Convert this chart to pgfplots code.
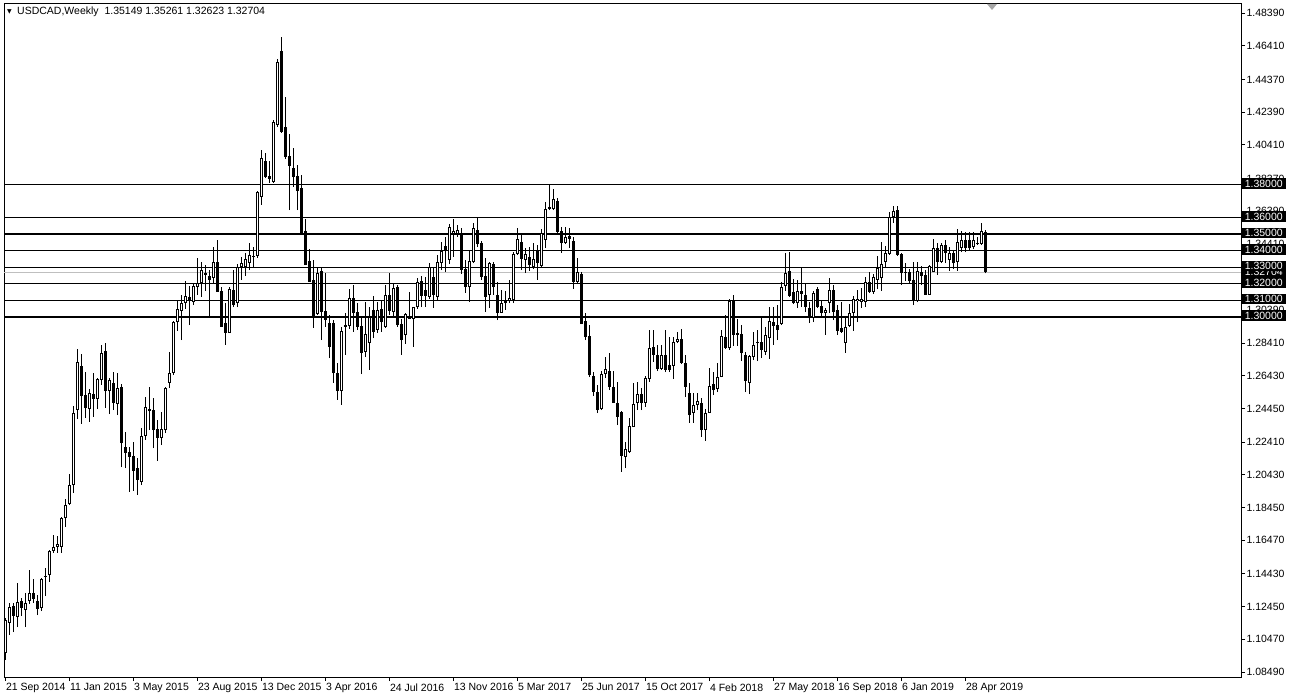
\documentclass[border=0pt]{standalone}
\usepackage{pgfplots}
\pgfplotsset{compat=1.18}
\usepackage{pgfplotstable}
\usepackage{fontspec}
\setmainfont{Liberation Sans}
\newfontfamily\dejavu{DejaVu Sans}

\pgfplotstableread{
k o h l c
0 1.0964 1.1176 1.0922 1.1164
1 1.1146 1.1267 1.1073 1.1243
2 1.1249 1.1267 1.1091 1.1188
3 1.1182 1.1388 1.1121 1.1273
4 1.1279 1.1297 1.1188 1.1237
5 1.1224 1.1327 1.1121 1.1267
6 1.1279 1.1467 1.1261 1.1327
7 1.1327 1.1412 1.1267 1.1291
8 1.1279 1.1315 1.1194 1.1231
9 1.1237 1.1418 1.1218 1.1412
10 1.1424 1.1479 1.1309 1.1430
11 1.1436 1.1588 1.1394 1.1582
12 1.1582 1.1679 1.1570 1.1606
13 1.1606 1.1672 1.1570 1.1624
14 1.1606 1.1788 1.1570 1.1781
15 1.1781 1.1896 1.1727 1.1860
16 1.1866 1.2048 1.1860 1.1981
17 1.1981 1.2460 1.1933 1.2417
18 1.2435 1.2805 1.2381 1.2726
19 1.2702 1.2774 1.2351 1.2520
20 1.2526 1.2665 1.2387 1.2448
21 1.2441 1.2563 1.2363 1.2538
22 1.2532 1.2659 1.2393 1.2502
23 1.2502 1.2629 1.2441 1.2623
24 1.2617 1.2829 1.2587 1.2781
25 1.2793 1.2841 1.2448 1.2550
26 1.2550 1.2629 1.2411 1.2617
27 1.2599 1.2665 1.2435 1.2478
28 1.2472 1.2659 1.2405 1.2569
29 1.2575 1.2593 1.2090 1.2235
30 1.2211 1.2302 1.2084 1.2175
31 1.2181 1.2211 1.1939 1.2151
32 1.2157 1.2242 1.1945 1.2066
33 1.2084 1.2145 1.1921 1.2012
34 1.1999 1.2326 1.1981 1.2278
35 1.2278 1.2514 1.2254 1.2454
36 1.2441 1.2575 1.2314 1.2429
37 1.2435 1.2508 1.2205 1.2314
38 1.2320 1.2375 1.2127 1.2266
39 1.2266 1.2423 1.2223 1.2320
40 1.2314 1.2575 1.2296 1.2569
41 1.2599 1.2787 1.2569 1.2659
42 1.2659 1.2974 1.2647 1.2968
43 1.2968 1.3101 1.2914 1.3047
44 1.3035 1.3132 1.2859 1.3083
45 1.3083 1.3216 1.3047 1.3126
46 1.3120 1.3186 1.2950 1.3095
47 1.3089 1.3204 1.3071 1.3186
48 1.3180 1.3356 1.3132 1.3204
49 1.3204 1.3331 1.3120 1.3283
50 1.3265 1.3313 1.3156 1.3253
51 1.3247 1.3283 1.3005 1.3223
52 1.3235 1.3422 1.3204 1.3331
53 1.3331 1.3465 1.3150 1.3150
54 1.3156 1.3180 1.2938 1.2938
55 1.2962 1.3083 1.2829 1.2902
56 1.2902 1.3180 1.2902 1.3168
57 1.3162 1.3283 1.3059 1.3071
58 1.3083 1.3319 1.3059 1.3301
59 1.3301 1.3362 1.3223 1.3325
60 1.3301 1.3386 1.3247 1.3350
61 1.3325 1.3446 1.3283 1.3374
62 1.3362 1.3422 1.3295 1.3368
63 1.3368 1.3761 1.3356 1.3755
64 1.3725 1.4010 1.3677 1.3961
65 1.3943 1.3991 1.3840 1.3846
66 1.3852 1.3943 1.3810 1.3834
67 1.3816 1.4191 1.3810 1.4179
68 1.4161 1.4561 1.4149 1.4542
69 1.4609 1.4694 1.4113 1.4119
70 1.4149 1.4331 1.3955 1.3967
71 1.3973 1.4107 1.3646 1.3913
72 1.3901 1.4022 1.3786 1.3846
73 1.3852 1.3919 1.3646 1.3761
74 1.3780 1.3858 1.3507 1.3507
75 1.3519 1.3592 1.3313 1.3313
76 1.3337 1.3410 1.3210 1.3210
77 1.3223 1.3344 1.2932 1.3005
78 1.3017 1.3295 1.3011 1.3265
79 1.3277 1.3301 1.2859 1.3029
80 1.3035 1.3265 1.2938 1.2980
81 1.2962 1.3011 1.2750 1.2817
82 1.2962 1.2980 1.2599 1.2659
83 1.2659 1.2720 1.2496 1.2550
84 1.2550 1.2938 1.2466 1.2914
85 1.2950 1.3023 1.2769 1.2938
86 1.2944 1.3168 1.2926 1.3114
87 1.3114 1.3192 1.2908 1.3023
88 1.3029 1.3083 1.2920 1.2938
89 1.2944 1.2999 1.2653 1.2781
90 1.2787 1.3089 1.2756 1.2896
91 1.2841 1.3059 1.2678 1.2999
92 1.3041 1.3126 1.2871 1.2908
93 1.2920 1.3089 1.2902 1.3041
94 1.3047 1.3101 1.2908 1.2968
95 1.2938 1.3192 1.2932 1.3132
96 1.3132 1.3265 1.3011 1.3035
97 1.3029 1.3204 1.2999 1.3174
98 1.3180 1.3192 1.2938 1.2950
99 1.2956 1.2986 1.2769 1.2859
100 1.2890 1.3023 1.2835 1.3017
101 1.2992 1.3150 1.2986 1.2986
102 1.2986 1.3059 1.2817 1.3059
103 1.3059 1.3235 1.3047 1.3210
104 1.3216 1.3247 1.3059 1.3126
105 1.3162 1.3241 1.3059 1.3126
106 1.3120 1.3325 1.3108 1.3301
107 1.3241 1.3295 1.3053 1.3132
108 1.3120 1.3374 1.3101 1.3331
109 1.3325 1.3453 1.3283 1.3398
110 1.3428 1.3483 1.3271 1.3398
111 1.3344 1.3562 1.3319 1.3543
112 1.3501 1.3592 1.3362 1.3519
113 1.3501 1.3555 1.3483 1.3525
114 1.3501 1.3537 1.3259 1.3283
115 1.3289 1.3344 1.3144 1.3180
116 1.3180 1.3404 1.3089 1.3337
117 1.3331 1.3568 1.3325 1.3537
118 1.3525 1.3604 1.3422 1.3440
119 1.3446 1.3459 1.3223 1.3241
120 1.3247 1.3356 1.3029 1.3120
121 1.3132 1.3331 1.3053 1.3325
122 1.3319 1.3331 1.3132 1.3180
123 1.3132 1.3210 1.2980 1.3023
124 1.3023 1.3162 1.3023 1.3083
125 1.3083 1.3156 1.3041 1.3095
126 1.3095 1.3223 1.3083 1.3114
127 1.3101 1.3392 1.3083 1.3380
128 1.3380 1.3537 1.3374 1.3471
129 1.3453 1.3495 1.3283 1.3350
130 1.3344 1.3416 1.3265 1.3380
131 1.3362 1.3422 1.3277 1.3313
132 1.3301 1.3446 1.3289 1.3350
133 1.3404 1.3434 1.3223 1.3325
134 1.3307 1.3531 1.3301 1.3507
135 1.3465 1.3695 1.3416 1.3652
136 1.3665 1.3798 1.3646 1.3652
137 1.3652 1.3774 1.3646 1.3713
138 1.3701 1.3719 1.3507 1.3513
139 1.3519 1.3543 1.3386 1.3446
140 1.3446 1.3543 1.3440 1.3483
141 1.3489 1.3537 1.3416 1.3471
142 1.3459 1.3483 1.3168 1.3210
143 1.3210 1.3356 1.3198 1.3271
144 1.3259 1.3271 1.2956 1.2956
145 1.2974 1.3023 1.2859 1.2877
146 1.2883 1.2950 1.2635 1.2647
147 1.2641 1.2665 1.2520 1.2544
148 1.2544 1.2587 1.2417 1.2435
149 1.2441 1.2671 1.2435 1.2653
150 1.2653 1.2756 1.2629 1.2684
151 1.2671 1.2781 1.2556 1.2575
152 1.2575 1.2671 1.2478 1.2478
153 1.2478 1.2605 1.2344 1.2393
154 1.2423 1.2429 1.2060 1.2157
155 1.2151 1.2242 1.2084 1.2199
156 1.2181 1.2387 1.2175 1.2338
157 1.2332 1.2599 1.2332 1.2472
158 1.2478 1.2605 1.2435 1.2532
159 1.2532 1.2569 1.2435 1.2478
160 1.2478 1.2641 1.2454 1.2629
161 1.2623 1.2920 1.2605 1.2811
162 1.2817 1.2920 1.2726 1.2769
163 1.2769 1.2829 1.2671 1.2684
164 1.2684 1.2829 1.2678 1.2769
165 1.2769 1.2920 1.2665 1.2678
166 1.2708 1.2877 1.2665 1.2678
167 1.2702 1.2877 1.2623 1.2847
168 1.2847 1.2908 1.2841 1.2865
169 1.2865 1.2926 1.2714 1.2720
170 1.2720 1.2769 1.2514 1.2575
171 1.2538 1.2599 1.2357 1.2405
172 1.2417 1.2538 1.2357 1.2466
173 1.2466 1.2538 1.2435 1.2490
174 1.2478 1.2508 1.2272 1.2314
175 1.2314 1.2441 1.2248 1.2417
176 1.2417 1.2690 1.2417 1.2581
177 1.2593 1.2665 1.2526 1.2556
178 1.2563 1.2720 1.2544 1.2635
179 1.2635 1.2920 1.2635 1.2883
180 1.2877 1.3011 1.2805 1.2811
181 1.2811 1.3108 1.2799 1.3095
182 1.3095 1.3132 1.2823 1.2890
183 1.2902 1.2986 1.2823 1.2890
184 1.2896 1.2950 1.2732 1.2781
185 1.2769 1.2787 1.2544 1.2611
186 1.2599 1.2769 1.2532 1.2762
187 1.2756 1.2908 1.2738 1.2829
188 1.2841 1.2920 1.2732 1.2847
189 1.2847 1.3005 1.2750 1.2799
190 1.2787 1.2938 1.2769 1.2890
191 1.2871 1.3059 1.2744 1.2974
192 1.2968 1.3059 1.2829 1.2944
193 1.2950 1.3071 1.2859 1.2920
194 1.2956 1.3210 1.2950 1.3180
195 1.3186 1.3386 1.3156 1.3265
196 1.3277 1.3392 1.3120 1.3126
197 1.3150 1.3229 1.3077 1.3083
198 1.3083 1.3223 1.3053 1.3156
199 1.3156 1.3295 1.3059 1.3138
200 1.3132 1.3204 1.3029 1.3059
201 1.3053 1.3089 1.2962 1.2992
202 1.2992 1.3156 1.2968 1.3144
203 1.3168 1.3180 1.3053 1.3059
204 1.3065 1.3101 1.2999 1.3023
205 1.3023 1.3053 1.2890 1.3041
206 1.3083 1.3235 1.3023 1.3162
207 1.3162 1.3192 1.2980 1.3029
208 1.3041 1.3071 1.2890 1.2914
209 1.2932 1.3089 1.2902 1.2908
210 1.2841 1.2992 1.2781 1.2938
211 1.2944 1.3077 1.2938 1.3023
212 1.3023 1.3126 1.2914 1.3108
213 1.3095 1.3162 1.2968 1.3108
214 1.3089 1.3174 1.3053 1.3108
215 1.3089 1.3241 1.3059 1.3210
216 1.3210 1.3271 1.3144 1.3150
217 1.3150 1.3259 1.3138 1.3241
218 1.3223 1.3368 1.3168 1.3295
219 1.3235 1.3453 1.3156 1.3319
220 1.3331 1.3428 1.3295 1.3386
221 1.3380 1.3634 1.3374 1.3604
222 1.3604 1.3671 1.3568 1.3640
223 1.3646 1.3671 1.3368 1.3374
224 1.3380 1.3386 1.3192 1.3265
225 1.3271 1.3325 1.3216 1.3265
226 1.3271 1.3289 1.3204 1.3216
227 1.3223 1.3331 1.3071 1.3101
228 1.3095 1.3331 1.3089 1.3277
229 1.3271 1.3307 1.3192 1.3247
230 1.3253 1.3283 1.3132 1.3132
231 1.3132 1.3313 1.3132 1.3307
232 1.3271 1.3471 1.3271 1.3416
233 1.3416 1.3446 1.3253 1.3331
234 1.3331 1.3446 1.3325 1.3434
235 1.3434 1.3465 1.3325 1.3386
236 1.3344 1.3422 1.3277 1.3386
237 1.3386 1.3404 1.3289 1.3325
238 1.3331 1.3531 1.3277 1.3453
239 1.3416 1.3519 1.3392 1.3465
240 1.3465 1.3513 1.3392 1.3416
241 1.3465 1.3513 1.3404 1.3416
242 1.3422 1.3513 1.3410 1.3465
243 1.3446 1.3483 1.3434 1.3440
244 1.3440 1.3568 1.3434 1.3519
245 1.35149 1.35261 1.32623 1.32704
}\candles

\newcommand{\mtfont}{\fontsize{10.5bp}{12bp}\selectfont}

\begin{document}
\begin{tikzpicture}
\useasboundingbox (0bp,0bp) rectangle (1289bp,698bp);
\fill[white] (0bp,0bp) rectangle (1289bp,698bp);
\begin{axis}[
  at={(4bp,21bp)}, anchor=south west,
  scale only axis, width=1237bp, height=673bp,
  xmin=-0.375, xmax=308.875, ymin=1.08187, ymax=1.48937,
  clip=false,
  axis line style={black, line width=1bp},
  ytick pos=right, yticklabel pos=right,
  xtick pos=bottom,
  tick align=outside, major tick length=4bp,
  tick style={black, line width=0.8bp},
  ytick={1.48390,1.46410,1.44370,1.42390,1.40410,1.38370,1.36390,1.34410,1.30390,1.28410,1.26430,1.24450,1.22410,1.20430,1.18450,1.16470,1.14430,1.12450,1.10470,1.08490},
  yticklabels={1.48390,1.46410,1.44370,1.42390,1.40410,1.38370,1.36390,1.34410,1.30390,1.28410,1.26430,1.24450,1.22410,1.20430,1.18450,1.16470,1.14430,1.12450,1.10470,1.08490},
  xtick={0,16,...,240},
  xticklabels={21 Sep 2014,11 Jan 2015,3 May 2015,23 Aug 2015,13 Dec 2015,3 Apr 2016,24 Jul 2016,13 Nov 2016,5 Mar 2017,25 Jun 2017,15 Oct 2017,4 Feb 2018,27 May 2018,16 Sep 2018,6 Jan 2019,28 Apr 2019},
  yticklabel style={anchor=west, xshift=-2bp, font=\mtfont},
  xticklabel style={anchor=north west, xshift=-3bp, yshift=1bp, font=\mtfont},
]
% level lines
\addplot[black, line width=1bp, forget plot] coordinates {(-0.375,1.38) (308.875,1.38)};
\addplot[black, line width=1bp, forget plot] coordinates {(-0.375,1.36) (308.875,1.36)};
\addplot[black, line width=2bp, forget plot] coordinates {(-0.375,1.35) (308.875,1.35)};
\addplot[black, line width=1bp, forget plot] coordinates {(-0.375,1.34) (308.875,1.34)};
\addplot[black, line width=1bp, forget plot] coordinates {(-0.375,1.33) (308.875,1.33)};
\addplot[black!25, line width=1bp, forget plot] coordinates {(-0.375,1.32704) (308.875,1.32704)};
\addplot[black, line width=1bp, forget plot] coordinates {(-0.375,1.32) (308.875,1.32)};
\addplot[black, line width=1bp, forget plot] coordinates {(-0.375,1.31) (308.875,1.31)};
\addplot[black, line width=2bp, forget plot] coordinates {(-0.375,1.30) (308.875,1.30)};
% wicks
\addplot[draw=none, mark=none, forget plot,
  error bars/.cd, y dir=plus, y explicit, error mark=none,
  error bar style={draw=black, line width=1bp, solid}]
  table[x=k, y=l, y error plus expr={\thisrow{h}-\thisrow{l}}] {\candles};
% bodies
\addplot[draw=none, mark=none, forget plot,
  error bars/.cd, y dir=plus, y explicit, error mark=none,
  error bar style={draw=black, line width=3bp, solid}]
  table[x=k, y expr={min(\thisrow{o},\thisrow{c})}, y error plus expr={max(abs(\thisrow{c}-\thisrow{o}),0.0006)}] {\candles};
% hollow part of rising candles
\addplot[draw=none, mark=none, forget plot,
  error bars/.cd, y dir=plus, y explicit, error mark=none,
  error bar style={draw=white, line width=1bp, solid}]
  table[x=k, y expr={\thisrow{o}+0.000606}, y error plus expr={max(\thisrow{c}-\thisrow{o}-0.00121,0)}] {\candles};
\coordinate (r138) at (axis cs:308.875,1.38);
\coordinate (r136) at (axis cs:308.875,1.36);
\coordinate (r135) at (axis cs:308.875,1.35);
\coordinate (r134) at (axis cs:308.875,1.34);
\coordinate (r133) at (axis cs:308.875,1.33);
\coordinate (rbid) at (axis cs:308.875,1.32704);
\coordinate (r132) at (axis cs:308.875,1.32);
\coordinate (r131) at (axis cs:308.875,1.31);
\coordinate (r130) at (axis cs:308.875,1.30);
\end{axis}
\tikzset{lvl/.style={fill=black, text=white, anchor=west, inner xsep=2.5bp, inner ysep=0bp, minimum width=45bp, minimum height=10.5bp, text height=7.6bp, text depth=0.4bp, font=\mtfont}}
\node[lvl] at ([yshift=0.5bp]rbid) {1.32704};
\node[lvl] at ([yshift=1bp]r138) {1.38000};
\node[lvl] at ([yshift=1bp]r136) {1.36000};
\node[lvl] at ([yshift=1bp]r135) {1.35000};
\node[lvl] at ([yshift=1bp]r134) {1.34000};
\node[lvl] at ([yshift=1bp]r133) {1.33000};
\node[lvl] at ([yshift=1bp]r132) {1.32000};
\node[lvl] at ([yshift=1bp]r131) {1.31000};
\node[lvl] at ([yshift=1bp]r130) {1.30000};
% header
\node[anchor=west, inner sep=0pt, font=\dejavu\fontsize{6bp}{7bp}\selectfont] at (7bp,686bp) {▼};
\node[anchor=west, inner sep=0pt, font=\mtfont] at (17bp,686bp) {USDCAD,Weekly\ \ 1.35149 1.35261 1.32623 1.32704};
\fill[black!35] (987bp,694bp) -- (997bp,694bp) -- (992bp,688bp) -- cycle;
\end{tikzpicture}
\end{document}
